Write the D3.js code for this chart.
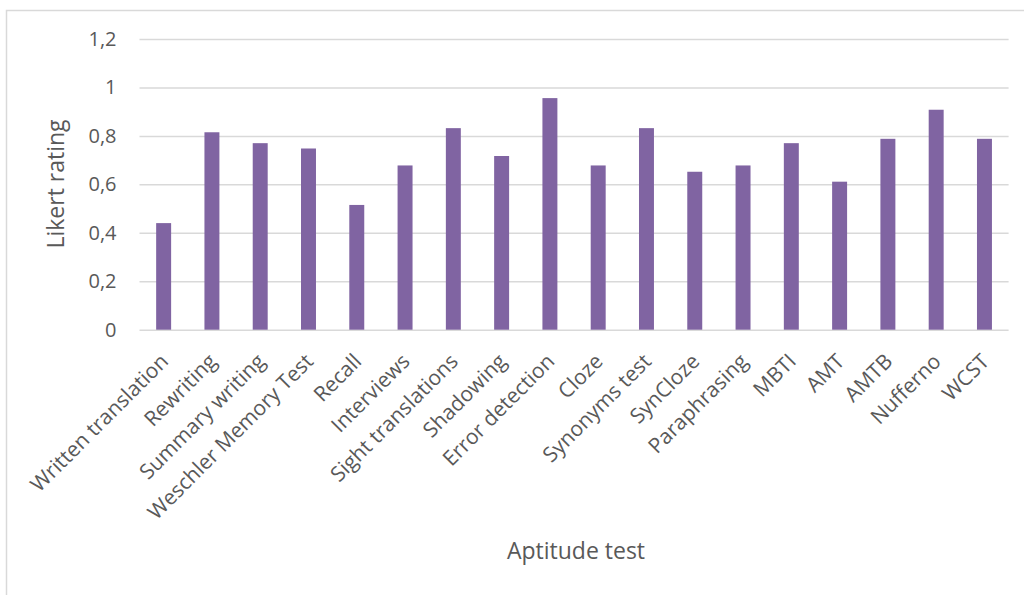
<!DOCTYPE html>
<html>
<head>
<meta charset="utf-8">
<script src="https://cdn.jsdelivr.net/npm/d3@7"></script>
<style>
  html, body { margin: 0; padding: 0; background: #fff; }
  svg { display: block; }
</style>
</head>
<body>
<svg id="chart" width="1024" height="595"></svg>
<script>
// Aptitude tests and their mean Likert ratings
const tests = [
  "Written translation", "Rewriting", "Summary writing", "Weschler Memory Test",
  "Recall", "Interviews", "Sight translations", "Shadowing", "Error detection",
  "Cloze", "Synonyms test", "SynCloze", "Paraphrasing", "MBTI", "AMT", "AMTB",
  "Nufferno", "WCST"
];
const ratings = [
  0.44, 0.815, 0.77, 0.748, 0.515, 0.678, 0.832, 0.717, 0.956,
  0.678, 0.832, 0.652, 0.678, 0.77, 0.611, 0.788, 0.908, 0.788
];
const yTicks = [0, 0.2, 0.4, 0.6, 0.8, 1, 1.2];
const yTickLabels = ["0", "0,2", "0,4", "0,6", "0,8", "1", "1,2"];
const xTitle = "Aptitude test";
const yTitle = "Likert rating";

const FONT = "'Open Sans', sans-serif";
const TEXT = "#595959";
const GRID = "#d9d9d9";

const svg = d3.select("#chart");
const plot = { left: 139.5, right: 1008.6, top: 39, bottom: 329.7 };

// chart frame (extends past the page edge on the right and bottom)
svg.append("rect")
  .attr("x", 6.5).attr("y", 10.5)
  .attr("width", 1100).attr("height", 700)
  .attr("fill", "#fff")
  .attr("stroke", GRID).attr("stroke-width", 1.5);

const x = d3.scaleBand()
  .domain(tests)
  .range([plot.left, plot.right])
  .paddingInner(0.69)
  .paddingOuter(0.345);

const y = d3.scaleLinear()
  .domain([0, 1.2])
  .range([plot.bottom, plot.top]);

// horizontal gridlines and value labels
const yAxis = d3.axisLeft(y)
  .tickValues(yTicks)
  .tickSize(-(plot.right - plot.left))
  .tickPadding(23)
  .tickFormat((d, i) => yTickLabels[i]);

const gy = svg.append("g")
  .attr("transform", `translate(${plot.left},0)`)
  .call(yAxis)
  .attr("font-family", FONT)
  .attr("font-size", 20);
gy.select(".domain").remove();
gy.selectAll(".tick line")
  .attr("stroke", GRID).attr("stroke-width", 1.5);
gy.selectAll(".tick text")
  .attr("fill", TEXT);

// bars
svg.append("g")
  .selectAll("rect")
  .data(tests)
  .join("rect")
  .attr("x", d => x(d))
  .attr("width", x.bandwidth())
  .attr("y", (d, i) => y(ratings[i]))
  .attr("height", (d, i) => y(0) - y(ratings[i]))
  .attr("fill", "#8064a2");

// category axis with rotated labels
const xAxis = d3.axisBottom(x).tickSize(0).tickPadding(0);
const gx = svg.append("g")
  .attr("transform", `translate(0,${plot.bottom})`)
  .call(xAxis)
  .attr("font-family", FONT)
  .attr("font-size", 21);
gx.select(".domain").remove();
gx.selectAll(".tick text")
  .attr("fill", TEXT)
  .attr("text-anchor", "end")
  .attr("dy", 0)
  .attr("y", 0)
  .attr("transform", "translate(6,33) rotate(-45)");

// axis titles
svg.append("text")
  .attr("x", 576).attr("y", 559)
  .attr("text-anchor", "middle")
  .attr("font-family", FONT)
  .attr("fill", TEXT)
  .attr("font-size", 23)
  .text(xTitle);

svg.append("text")
  .attr("transform", "translate(64,184) rotate(-90)")
  .attr("text-anchor", "middle")
  .attr("font-family", FONT)
  .attr("fill", TEXT)
  .attr("font-size", 23)
  .text(yTitle);
</script>
</body>
</html>
